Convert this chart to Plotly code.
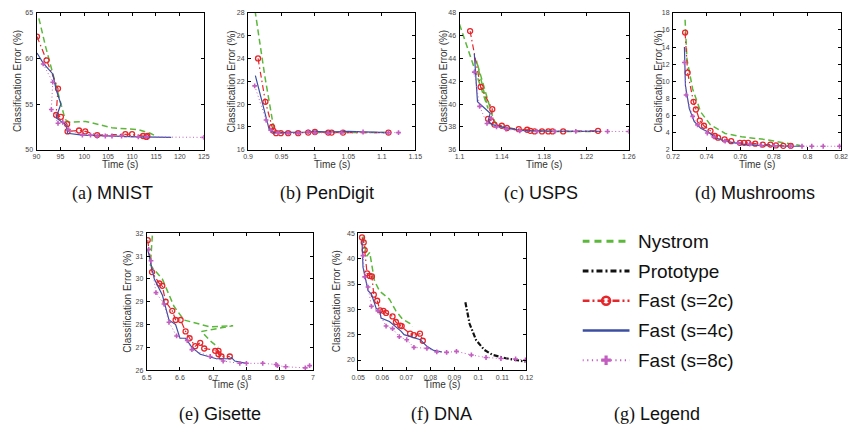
import plotly.graph_objects as go

W, H = 860, 446

# ---------------- data ----------------
# MNIST
mnist_nys_t = [90.5, 91.9, 94.1, 95.1, 96.0, 97.0, 100.3, 105.8, 111.3, 113.8, 114.9]
mnist_nys_e = [64.4, 61.3, 57.0, 55.2, 53.3, 53.0, 53.1, 52.4, 52.2, 51.8, 51.5]
mnist_f2_t = [90.1, 92.1, 94.5, 94.1, 95.1, 96.4, 96.5, 98.9, 100.2, 102.7, 108.6, 110.0, 112.3, 113.0, 113.2]
mnist_f2_e = [62.4, 59.8, 56.7, 53.8, 53.6, 52.8, 52.0, 52.1, 52.0, 51.6, 51.7, 51.7, 51.5, 51.4, 51.5]
mnist_f4_t = [90.1, 91.4, 93.4, 94.1, 95.1, 94.1, 96.2, 96.5, 99.6, 104.4, 111.3, 118.2]
mnist_f4_e = [60.6, 59.5, 58.3, 56.6, 55.0, 53.5, 52.7, 51.8, 51.6, 51.5, 51.4, 51.35]
mnist_f8_t = [91.4, 93.4, 93.1, 94.5, 95.5, 96.7, 99.6, 101.3, 102.7, 104.4, 105.8, 107.8, 111.3, 113.0, 125.0]
mnist_f8_e = [59.4, 57.4, 54.4, 52.9, 53.0, 52.2, 51.6, 51.6, 51.5, 51.5, 51.5, 51.5, 51.4, 51.4, 51.35]

# PenDigit
pen_nys_t = [0.9105, 0.925, 0.939, 0.95, 1.0, 1.05, 1.11]
pen_nys_e = [28.2, 22.5, 17.7, 17.5, 17.5, 17.5, 17.5]
pen_f2_t = [0.915, 0.926, 0.936, 0.938, 0.942, 0.949, 0.96, 0.975, 0.99, 1.0, 1.02, 1.025, 1.042, 1.11]
pen_f2_e = [24.0, 20.2, 18.0, 17.65, 17.45, 17.45, 17.45, 17.45, 17.5, 17.55, 17.5, 17.5, 17.5, 17.5]
pen_f4_t = [0.911, 0.932, 0.939, 0.96, 0.99, 1.0, 1.02, 1.05, 1.11]
pen_f4_e = [22.5, 17.7, 17.5, 17.5, 17.55, 17.6, 17.55, 17.6, 17.5]
pen_f8_t = [0.910, 0.927, 0.934, 0.945, 0.96, 0.975, 0.99, 1.0, 1.02, 1.04, 1.072, 1.11, 1.125]
pen_f8_e = [21.6, 18.6, 17.7, 17.5, 17.45, 17.45, 17.55, 17.5, 17.45, 17.5, 17.55, 17.5, 17.5]

# USPS
usps_nys_t = [1.100, 1.113, 1.127, 1.116, 1.131, 1.134, 1.140, 1.16, 1.19, 1.23]
usps_nys_e = [47.0, 43.5, 39.6, 43.8, 39.0, 38.3, 38.0, 37.7, 37.6, 37.6]
usps_f2_t = [1.110, 1.120, 1.131, 1.130, 1.127, 1.133, 1.140, 1.145, 1.156, 1.164, 1.167, 1.171, 1.178, 1.184, 1.188, 1.198, 1.231]
usps_f2_e = [46.4, 41.5, 39.55, 38.5, 38.7, 38.2, 38.1, 37.9, 37.8, 37.75, 37.65, 37.6, 37.6, 37.6, 37.6, 37.6, 37.65]
usps_f4_t = [1.114, 1.117, 1.129, 1.127, 1.131, 1.140, 1.157, 1.189, 1.233]
usps_f4_e = [44.4, 40.2, 39.2, 38.5, 38.2, 38.0, 37.7, 37.6, 37.6]
usps_f8_t = [1.114, 1.119, 1.126, 1.130, 1.135, 1.144, 1.157, 1.173, 1.19, 1.21, 1.240, 1.26]
usps_f8_e = [42.8, 39.8, 38.3, 38.75, 38.0, 37.8, 37.65, 37.6, 37.6, 37.6, 37.6, 37.6]

# Mushrooms
mush_nys_t = [0.7272, 0.7283, 0.7317, 0.7365, 0.7423, 0.751, 0.7608, 0.7744, 0.786, 0.7957]
mush_nys_e = [17.2, 12.6, 9.1, 6.4, 4.9, 3.9, 3.5, 3.2, 2.8, 2.5]
mush_f2_t = [0.7272, 0.7287, 0.7322, 0.7336, 0.7359, 0.7384, 0.7423, 0.7449, 0.7468, 0.7507, 0.7546,
             0.7598, 0.7623, 0.7647, 0.7689, 0.7734, 0.7779, 0.7812, 0.7856, 0.790]
mush_f2_e = [15.7, 11.0, 7.6, 6.7, 5.4, 4.8, 4.2, 3.6, 3.4, 3.2, 3.0,
             2.8, 2.8, 2.8, 2.7, 2.6, 2.6, 2.5, 2.45, 2.45]
mush_f4_t = [0.7268, 0.7274, 0.7297, 0.7326, 0.7365, 0.7414, 0.7452, 0.751, 0.7608, 0.7705, 0.790, 0.7967]
mush_f4_e = [14.0, 9.5, 6.8, 5.3, 4.5, 4.0, 3.4, 3.0, 2.65, 2.5, 2.4, 2.4]
mush_f8_t = [0.7268, 0.7278, 0.7317, 0.7346, 0.7404, 0.7443, 0.751, 0.7588, 0.7656, 0.7724, 0.7802,
             0.790, 0.7967, 0.8025, 0.8093, 0.819]
mush_f8_e = [12.2, 8.4, 5.9, 4.9, 3.95, 3.5, 3.0, 2.8, 2.65, 2.5, 2.45, 2.4, 2.4, 2.4, 2.4, 2.4]

# Gisette
gis_nys_t = [6.517, 6.511, 6.547, 6.582, 6.612, 6.69, 6.76, 6.72, 6.665, 6.69, 6.715]
gis_nys_e = [31.9, 30.6, 30.0, 28.8, 28.2, 27.9, 27.95, 27.85, 27.7, 27.3, 27.0]
gis_f2_t = [6.503, 6.516, 6.538, 6.547, 6.557, 6.577, 6.587, 6.602, 6.617, 6.629, 6.646, 6.661,
            6.673, 6.706, 6.716, 6.716, 6.725, 6.75]
gis_f2_e = [31.7, 30.3, 29.8, 29.7, 29.0, 28.6, 28.2, 28.2, 27.7, 27.4, 27.05, 27.2,
            26.95, 26.85, 26.85, 26.7, 26.6, 26.6]
gis_f4_t = [6.503, 6.513, 6.523, 6.547, 6.567, 6.587, 6.600, 6.617, 6.636, 6.661, 6.71, 6.745, 6.755, 6.765, 6.8]
gis_f4_e = [31.3, 30.6, 30.0, 29.3, 28.2, 28.0, 27.4, 27.4, 27.0, 26.7, 26.5, 26.5, 26.55, 26.4, 26.3]
gis_f8_t = [6.506, 6.513, 6.528, 6.552, 6.567, 6.59, 6.622, 6.636, 6.691, 6.73, 6.78, 6.8, 6.849,
            6.889, 6.893, 6.918, 6.977, 6.99]
gis_f8_e = [31.3, 30.8, 29.4, 28.9, 28.1, 27.5, 27.3, 26.9, 26.6, 26.4, 26.3, 26.3, 26.3,
            26.25, 26.2, 26.15, 26.1, 26.2]

# DNA
dna_nys_t = [0.052, 0.0535, 0.0548, 0.0568, 0.0589, 0.063, 0.0657, 0.0684, 0.0716, 0.0725]
dna_nys_e = [44.4, 40.5, 41.2, 35.6, 33.6, 32.0, 29.7, 28.1, 27.2, 26.6]
dna_pro_t = [0.0946, 0.0964, 0.0991, 0.1025, 0.106, 0.1114, 0.1169, 0.1196]
dna_pro_e = [31.4, 27.1, 23.9, 22.0, 21.0, 20.35, 19.9, 19.7]
dna_f2_t = [0.0516, 0.0523, 0.0527, 0.0537, 0.0548, 0.0557, 0.0565, 0.0579, 0.0591, 0.0605, 0.0616,
            0.0643, 0.0657, 0.0675, 0.0681, 0.0716, 0.0732, 0.0757, 0.0769]
dna_f2_e = [44.2, 43.2, 41.7, 37.1, 36.6, 36.5, 32.9, 31.7, 29.8, 29.7, 29.3,
            28.6, 27.5, 26.8, 26.7, 25.2, 24.9, 25.2, 23.8]
dna_f4_t = [0.0516, 0.052, 0.0541, 0.0555, 0.0575, 0.0591, 0.0595, 0.063, 0.0678, 0.0691, 0.0759,
            0.0786, 0.0814, 0.0848]
dna_f4_e = [43.5, 38.3, 33.7, 33.0, 30.2, 29.5, 28.3, 27.6, 25.7, 25.0, 24.0, 22.7, 21.9, 21.6]
dna_f8_t = [0.052, 0.0527, 0.0541, 0.0555, 0.0582, 0.0616, 0.0643, 0.0671, 0.0702, 0.0732, 0.0786,
            0.0827, 0.0868, 0.0909, 0.0971, 0.1032, 0.1094, 0.1155, 0.1196]
dna_f8_e = [40.6, 36.4, 34.4, 30.6, 29.7, 26.7, 26.2, 24.6, 24.0, 22.5, 22.3,
            21.6, 21.5, 21.7, 21.0, 20.5, 20.3, 20.2, 20.0]

# axis ticks
mnist_xt = [90, 95, 100, 105, 110, 115, 120, 125]
mnist_yt = [50, 55, 60, 65]
pen_xt = [0.9, 0.95, 1.0, 1.05, 1.1, 1.15]
pen_xl = ["0.9", "0.95", "1", "1.05", "1.1", "1.15"]
pen_yt = [16, 18, 20, 22, 24, 26, 28]
usps_xt = [1.1, 1.14, 1.18, 1.22, 1.26]
usps_xl = ["1.1", "1.14", "1.18", "1.22", "1.26"]
usps_yt = [36, 38, 40, 42, 44, 46, 48]
mush_xt = [0.72, 0.74, 0.76, 0.78, 0.8, 0.82]
mush_xl = ["0.72", "0.74", "0.76", "0.78", "0.8", "0.82"]
mush_yt = [2, 4, 6, 8, 10, 12, 14, 16, 18]
gis_xt = [6.5, 6.6, 6.7, 6.8, 6.9, 7.0]
gis_xl = ["6.5", "6.6", "6.7", "6.8", "6.9", "7"]
gis_yt = [26, 27, 28, 29, 30, 31, 32]
dna_xt = [0.05, 0.06, 0.07, 0.08, 0.09, 0.1, 0.11, 0.12]
dna_xl = ["0.05", "0.06", "0.07", "0.08", "0.09", "0.1", "0.11", "0.12"]
dna_yt = [20, 25, 30, 35, 40, 45]

captions = ["(a)", "(b)", "(c)", "(d)", "(e)", "(f)", "(g)"]
cap_names = ["MNIST", "PenDigit", "USPS", "Mushrooms", "Gisette", "DNA", "Legend"]
legend_names = ["Nystrom", "Prototype", "Fast (s=2c)", "Fast (s=4c)", "Fast (s=8c)"]

# ---------------- styles ----------------
GREEN = "#5bb83a"
BLACK = "#111111"
RED = "#e5262b"
BLUE = "#3b4ea3"
PINK = "#c35ec0"

styles = {
    "nys": dict(mode="lines", line=dict(color=GREEN, width=1.5, dash="6px,3.5px")),
    "pro": dict(mode="lines", line=dict(color=BLACK, width=2.2, dash="5px,2px,1.5px,2px")),
    "f2": dict(mode="lines+markers", line=dict(color=RED, width=1.2, dash="6px,3px,1.5px,3px"),
               marker=dict(symbol="circle-open", size=5, color=RED, line=dict(width=1.3, color=RED))),
    "f4": dict(mode="lines", line=dict(color=BLUE, width=1.2)),
    "f8": dict(mode="lines+markers", line=dict(color=PINK, width=1.0, dash="1px,2.5px"),
               marker=dict(symbol="cross", size=4, color=PINK, line=dict(width=0))),
}

# thicker samples for the legend panel
legend_styles = {
    "nys": dict(mode="lines", line=dict(color=GREEN, width=3, dash="7px,5px")),
    "pro": dict(mode="lines", line=dict(color=BLACK, width=3, dash="6px,3px,2px,3px")),
    "f2": dict(mode="lines+markers", line=dict(color=RED, width=2.5, dash="7px,3px,2px,3px"),
               marker=dict(symbol="circle-open", size=8, color=RED, line=dict(width=2.5, color=RED))),
    "f4": dict(mode="lines", line=dict(color=BLUE, width=2.6)),
    "f8": dict(mode="lines+markers", line=dict(color=PINK, width=2, dash="1.2px,3.5px"),
               marker=dict(symbol="cross", size=8, color=PINK, line=dict(width=0))),
}

def px2x(p):
    return p / W

def px2y(p):
    return 1 - p / H

panels = [
    dict(series=[("nys", mnist_nys_t, mnist_nys_e), ("f2", mnist_f2_t, mnist_f2_e),
                 ("f4", mnist_f4_t, mnist_f4_e), ("f8", mnist_f8_t, mnist_f8_e)],
         xr=[90, 125], yr=[50, 65], xt=mnist_xt, xl=[str(v) for v in mnist_xt], yt=mnist_yt,
         xp=(30, 200), yp=(9, 148), yt_x=10, cap=(107, 193)),
    dict(series=[("nys", pen_nys_t, pen_nys_e), ("f2", pen_f2_t, pen_f2_e),
                 ("f4", pen_f4_t, pen_f4_e), ("f8", pen_f8_t, pen_f8_e)],
         xr=[0.9, 1.15], yr=[16, 28], xt=pen_xt, xl=pen_xl, yt=pen_yt,
         xp=(245, 415), yp=(9, 148), yt_x=228, cap=(325, 193)),
    dict(series=[("nys", usps_nys_t, usps_nys_e), ("f2", usps_f2_t, usps_f2_e),
                 ("f4", usps_f4_t, usps_f4_e), ("f8", usps_f8_t, usps_f8_e)],
         xr=[1.1, 1.26], yr=[36, 48], xt=usps_xt, xl=usps_xl, yt=usps_yt,
         xp=(460, 632), yp=(9, 148), yt_x=443, cap=(543, 193)),
    dict(series=[("nys", mush_nys_t, mush_nys_e), ("f2", mush_f2_t, mush_f2_e),
                 ("f4", mush_f4_t, mush_f4_e), ("f8", mush_f8_t, mush_f8_e)],
         xr=[0.72, 0.82], yr=[2, 18], xt=mush_xt, xl=mush_xl, yt=mush_yt,
         xp=(677, 848), yp=(9, 148), yt_x=662, cap=(760, 193)),
    dict(series=[("nys", gis_nys_t, gis_nys_e), ("f2", gis_f2_t, gis_f2_e),
                 ("f4", gis_f4_t, gis_f4_e), ("f8", gis_f8_t, gis_f8_e)],
         xr=[6.5, 7.0], yr=[26, 32], xt=gis_xt, xl=gis_xl, yt=gis_yt,
         xp=(142, 311), yp=(233, 372), yt_x=123, cap=(217, 417)),
    dict(series=[("nys", dna_nys_t, dna_nys_e), ("pro", dna_pro_t, dna_pro_e), ("f2", dna_f2_t, dna_f2_e),
                 ("f4", dna_f4_t, dna_f4_e), ("f8", dna_f8_t, dna_f8_e)],
         xr=[0.05, 0.12], yr=[18, 45], xt=dna_xt, xl=dna_xl, yt=dna_yt,
         xp=(357, 528), yp=(233, 372), yt_x=335, cap=(442, 417)),
]

fig = go.Figure()
layout = dict(
    width=W, height=H, margin=dict(l=0, r=0, t=0, b=0),
    paper_bgcolor="white", plot_bgcolor="white", showlegend=False,
    font=dict(family="Liberation Sans, Arial, sans-serif", color="#222"),
)
annotations = []
SERIF = "Liberation Serif, DejaVu Serif, serif"
SANS = "Liberation Sans, Arial, sans-serif"

axis_common = dict(
    showgrid=False, zeroline=False, showline=True, linecolor="black", linewidth=1,
    mirror="ticks", ticks="inside", ticklen=3, tickwidth=0.8, tickcolor="black",
    tickfont=dict(size=7, color="#444", family=SANS),
)

for i, p in enumerate(panels, start=1):
    xa = "x" if i == 1 else f"x{i}"
    ya = "y" if i == 1 else f"y{i}"
    for key, t, e in p["series"]:
        fig.add_trace(go.Scatter(x=t, y=e, xaxis=xa, yaxis=ya, **styles[key]))
    layout["xaxis" if i == 1 else f"xaxis{i}"] = dict(
        axis_common, domain=[px2x(p["xp"][0]), px2x(p["xp"][1])], range=p["xr"],
        tickvals=p["xt"], ticktext=p["xl"], anchor=ya, ticklabelstandoff=0)
    layout["yaxis" if i == 1 else f"yaxis{i}"] = dict(
        axis_common, domain=[px2y(p["yp"][1]), px2y(p["yp"][0])], range=p["yr"],
        tickvals=p["yt"], anchor=xa, ticklabelstandoff=1)
    xc = (p["xp"][0] + p["xp"][1]) / 2
    yc = (p["yp"][0] + p["yp"][1]) / 2
    annotations.append(dict(text="Time (s)", x=px2x(xc), y=px2y(p["yp"][1] + 15), xref="paper", yref="paper",
                            showarrow=False, font=dict(size=10, color="#333", family=SANS),
                            xanchor="center", yanchor="middle"))
    annotations.append(dict(text="Classification Error (%)", x=px2x(p["yt_x"]), y=px2y(yc), xref="paper",
                            yref="paper", showarrow=False, textangle=-90,
                            font=dict(size=10, color="#333", family=SANS),
                            xanchor="center", yanchor="middle"))
    annotations.append(dict(
        text=f"<span style=\"font-family:{SERIF}\">{captions[i-1]}</span> {cap_names[i-1]}",
        x=px2x(p["cap"][0]), y=px2y(p["cap"][1]), xref="paper", yref="paper", showarrow=False,
        font=dict(size=18, color="#111", family=SANS), xanchor="center", yanchor="middle"))

# legend panel drawn in a hidden axis
leg_keys = ["nys", "pro", "f2", "f4", "f8"]
for r, key in enumerate(leg_keys):
    st = legend_styles[key]
    kw = dict(mode=st["mode"], line=st["line"])
    if "marker" in st:
        kw["marker"] = st["marker"]
        kw["selectedpoints"] = [1]
        kw["unselected"] = dict(marker=dict(opacity=0))
    fig.add_trace(go.Scatter(x=[0, 0.5, 1], y=[r, r, r], xaxis="x7", yaxis="y7", **kw))
    annotations.append(dict(text=legend_names[r], x=px2x(639), y=r, xref="paper", yref="y7",
                            showarrow=False, xanchor="left", yanchor="middle",
                            font=dict(size=19, color="#111", family=SANS)))
layout["xaxis7"] = dict(domain=[px2x(585), px2x(633)], range=[0, 1], visible=False, anchor="y7")
layout["yaxis7"] = dict(domain=[px2y(377), px2y(226)], range=[4.5, -0.5], visible=False, anchor="x7")

annotations.append(dict(
    text=f"<span style=\"font-family:{SERIF}\">{captions[6]}</span> {cap_names[6]}",
    x=px2x(661), y=px2y(417), xref="paper", yref="paper", showarrow=False,
    font=dict(size=18, color="#111", family=SANS), xanchor="center", yanchor="middle"))

layout["annotations"] = annotations
fig.update_layout(**layout)
fig.write_html("out.html")
